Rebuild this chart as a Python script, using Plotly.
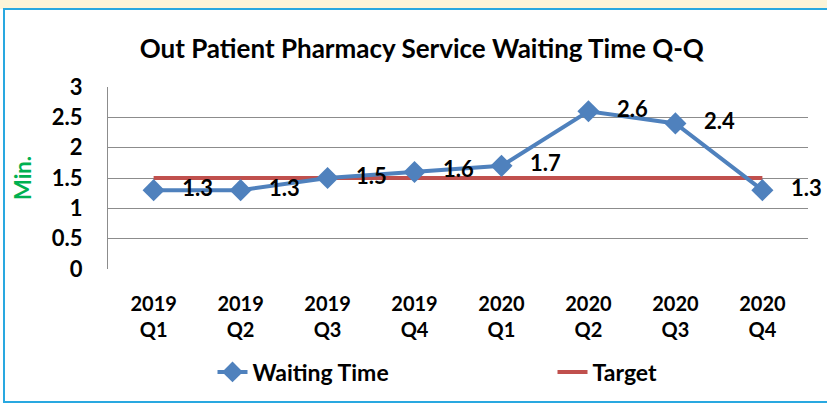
import plotly.graph_objects as go

# 季度標籤與數據
quarters = ["2019<br>Q1", "2019<br>Q2", "2019<br>Q3", "2019<br>Q4",
            "2020<br>Q1", "2020<br>Q2", "2020<br>Q3", "2020<br>Q4"]
waiting_time = [1.3, 1.3, 1.5, 1.6, 1.7, 2.6, 2.4, 1.3]
target = [1.5, 1.5, 1.5, 1.5, 1.5, 1.5, 1.5, 1.5]
y_ticks = [0, 0.5, 1, 1.5, 2, 2.5, 3]

FONT = "Lato"

fig = go.Figure()

# 目標線
fig.add_trace(go.Scatter(
    x=quarters, y=target,
    mode='lines',
    name='<b>Target</b>',
    line=dict(color='#C0504D', width=4),
))

# 等候時間
fig.add_trace(go.Scatter(
    x=quarters, y=waiting_time,
    mode='lines+markers+text',
    name='<b>Waiting Time</b>',
    line=dict(color='#4F81BD', width=4),
    marker=dict(symbol='diamond', size=17, color='#4F81BD'),
    text=[f'\u00a0\u00a0\u00a0<b>{v}</b>' for v in waiting_time],
    textposition='middle right',
    textfont=dict(size=22, color='black', family=FONT),
    cliponaxis=False,
))

fig.update_layout(
    width=827, height=406,
    margin=dict(l=108, r=19, t=87, b=137, autoexpand=False),
    paper_bgcolor='white',
    plot_bgcolor='white',
    font=dict(family=FONT, color='black', size=21),
    title=dict(text='<b>Out Patient Pharmacy Service Waiting Time Q-Q</b>',
               x=0.51, xanchor='center', y=0.88, yanchor='middle',
               font=dict(size=26, family=FONT)),
    showlegend=True,
    legend=dict(orientation='h', x=0.635, xanchor='center', y=-0.566, yanchor='middle',
                traceorder='reversed', entrywidth=295, entrywidthmode='pixels',
                font=dict(size=23, family=FONT)),
    xaxis=dict(
        showgrid=False, showline=False, ticks='',
        tickvals=quarters, ticktext=[f'<b>{q}</b>' for q in quarters],
        ticklabelstandoff=21,
        tickfont=dict(size=20, family=FONT),
    ),
    yaxis=dict(
        range=[0, 3], tickvals=y_ticks,
        ticktext=[f'<b>{v:g}</b>' for v in y_ticks],
        showgrid=True, gridcolor='#8C8C8C', gridwidth=1.2,
        showline=True, linecolor='#8C8C8C', linewidth=1.2,
        zeroline=False, ticks='', ticklabelstandoff=20,
        tickfont=dict(size=22, family=FONT),
        title=dict(text='<b>Min.</b>', font=dict(color='#00B050', size=22, family=FONT),
                   standoff=14),
    ),
)

# 頂部淡黃色帶與外框
fig.add_shape(type='rect', xref='paper', yref='paper',
              x0=-108/700, x1=719/700, y0=(269-0)/182, y1=(269-9)/182,
              fillcolor='#FDF4D8', line=dict(width=0), layer='below')
fig.add_shape(type='rect', xref='paper', yref='paper',
              x0=-104/700, x1=760/700, y0=(269-9)/182, y1=(269-402)/182,
              fillcolor='rgba(0,0,0,0)', line=dict(color='#29A8E0', width=2))

fig.write_html("out.html", config={'displayModeBar': False},
               post_script="document.body.style.margin='0';")
